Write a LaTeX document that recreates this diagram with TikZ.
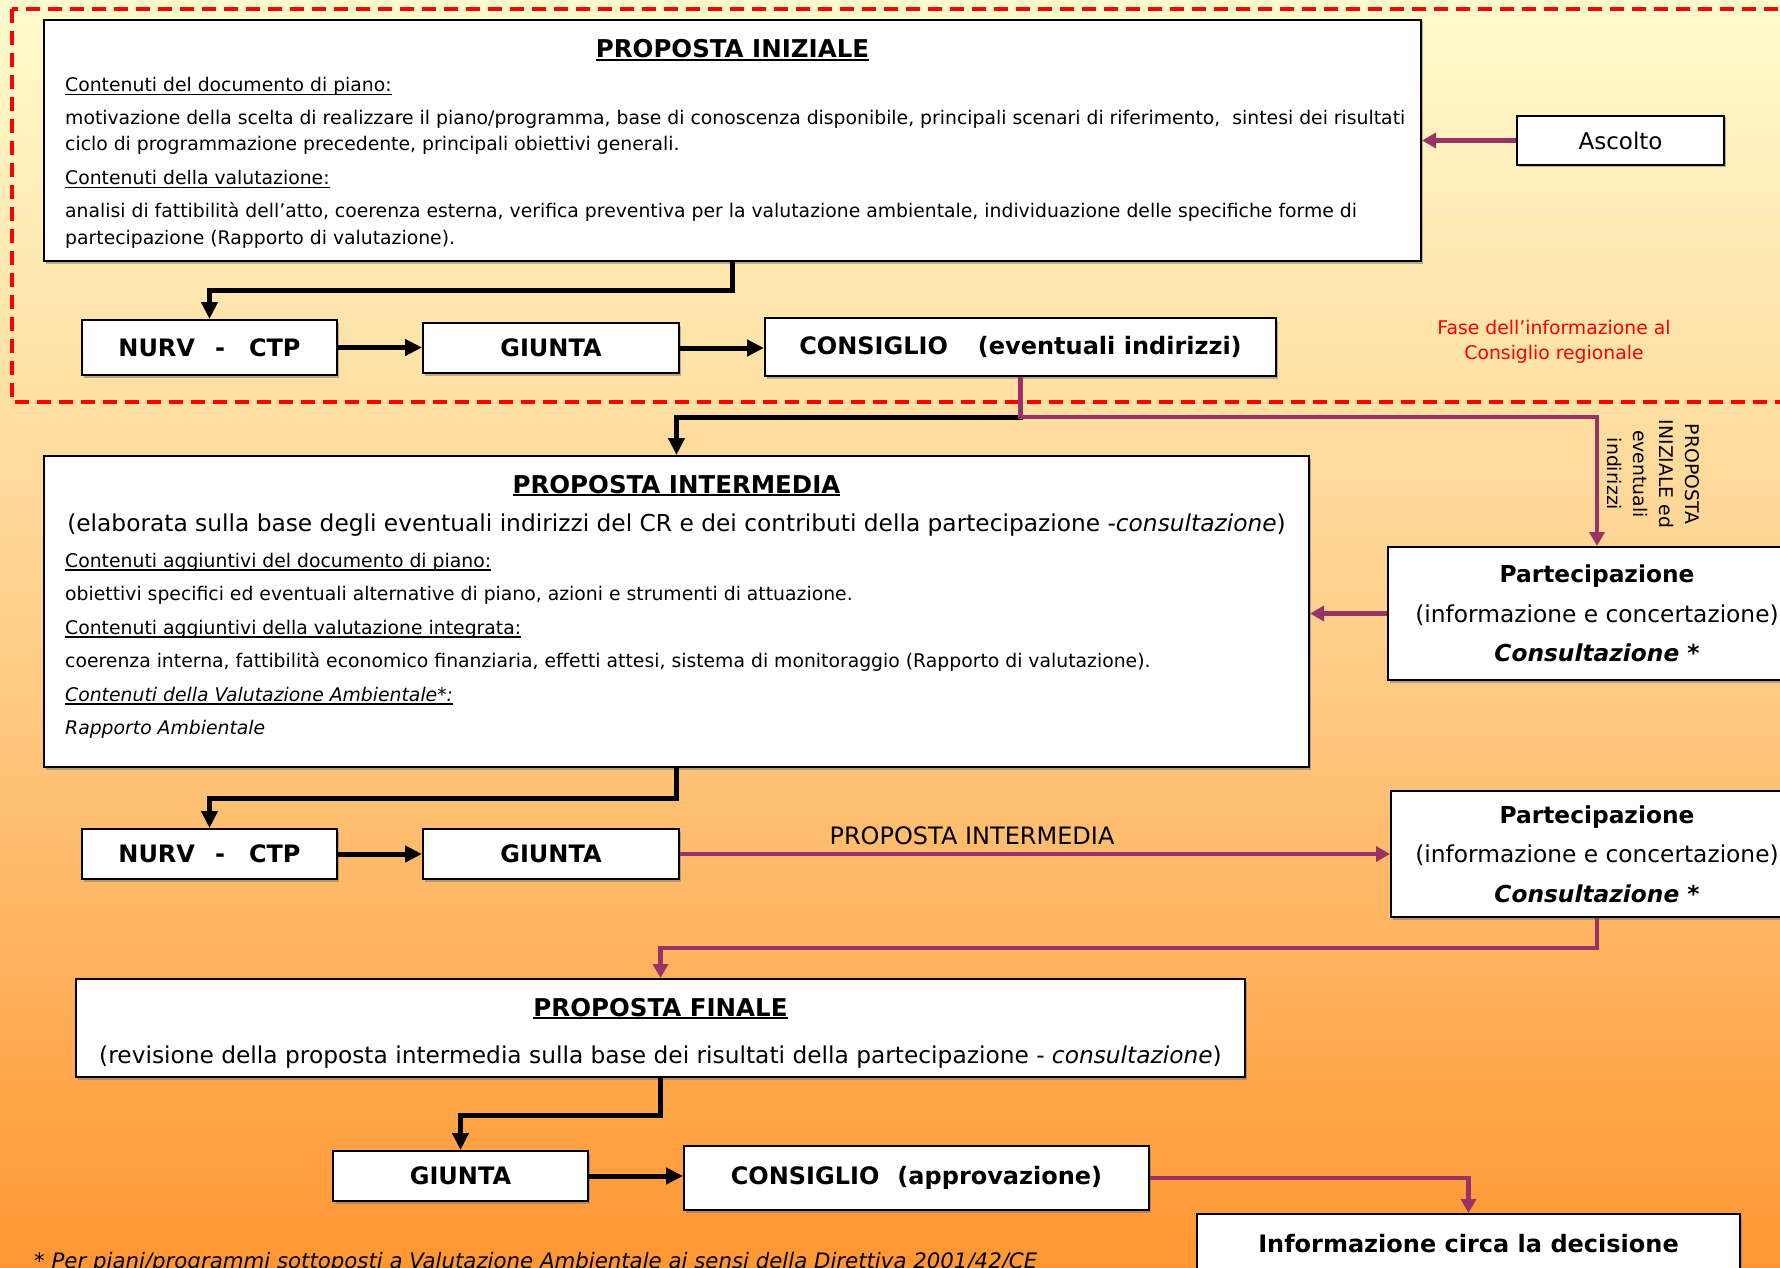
\documentclass[tikz,border=0pt]{standalone}
\usepackage{fontspec}
\setmainfont{DejaVu Sans}
\usetikzlibrary{arrows.meta,shadows}
\definecolor{purp}{RGB}{153,51,102}
\definecolor{bgtop}{RGB}{255,251,205}
\definecolor{bgmid}{RGB}{255,207,138}
\definecolor{bgbot}{RGB}{255,150,50}
\newcommand\fszA{\fontsize{18.8pt}{27pt}\selectfont}
\newcommand\fszB{\fontsize{23.3pt}{39.5pt}\selectfont}
\newcommand\fszC{\fontsize{24pt}{29pt}\selectfont\bfseries}
\newcommand\fszT{\fontsize{24.5pt}{29pt}\selectfont\bfseries}
\newcommand\ulx[3]{\setbox0\hbox{#3}\rlap{\rule[-#1]{\wd0}{#2}}\box0}
\begin{document}
\begin{tikzpicture}[x=1pt,y=-1pt,
  box/.style={draw=black, line width=2pt, fill=white, inner sep=0pt,
    drop shadow={shadow xshift=2pt, shadow yshift=-2.5pt, fill=black!55}},
  txt/.style={inner sep=0pt, anchor=base west, font=\fszA},
  ctr/.style={inner sep=0pt, anchor=base},
  blk/.style={line width=5pt, -{Triangle[length=17pt,width=16pt]}},
  pur/.style={draw=purp, line width=4.5pt, -{Triangle[length=14pt,width=15pt]}},
]
\useasboundingbox (0,0) rectangle (1780,1268);
\clip (0,0) rectangle (1780,1268);
\shade[top color=bgtop, bottom color=bgmid] (0,0) rectangle (1780,634);
\shade[top color=bgmid, bottom color=bgbot] (0,633) rectangle (1780,1268);

% red dashed frame
\draw[red, line width=4pt, dash pattern=on 14pt off 8pt] (11.5,9) rectangle (1800,401.5);

% ---------------- PROPOSTA INIZIALE
\node[box, minimum width=1377pt, minimum height=241pt] (pi) at (732.5,140.5) {};
\node[ctr, font=\fszT] (pit) at (732.5,58) {\ulx{3pt}{2pt}{PROPOSTA INIZIALE}};
\node[txt] (pi1) at (65,92) {\ulx{3pt}{1.2pt}{Contenuti del documento di piano:}};
\node[txt] (pi2) at (65,125) {motivazione della scelta di realizzare il piano/programma, base di conoscenza disponibile, principali scenari di riferimento,\ \ sintesi dei risultati};
\node[txt] (pi3) at (65,151) {ciclo di programmazione precedente, principali obiettivi generali.};
\node[txt] (pi4) at (65,185) {\ulx{3pt}{1.2pt}{Contenuti della valutazione:}};
\node[txt] (pi5) at (65,218) {analisi di fattibilità dell’atto, coerenza esterna, verifica preventiva per la valutazione ambientale, individuazione delle specifiche forme di};
\node[txt] (pi6) at (65,244) {partecipazione (Rapporto di valutazione).};

\node[box, minimum width=207pt, minimum height=49pt, font=\fontsize{23pt}{28pt}\selectfont] (asc) at (1620.5,140.5) {\raisebox{-3pt}{Ascolto}};

\node[box, minimum width=255pt, minimum height=55pt, font=\fszC] (nurv1) at (209.5,347.5) {NURV\hspace{20pt}-\hspace{24pt}CTP};
\node[box, minimum width=256pt, minimum height=50pt, font=\fszC] (giunta1) at (551,348) {\raisebox{-2pt}{GIUNTA}};
\node[box, minimum width=511pt, minimum height=58pt, font=\fszC] (cons1) at (1020.5,347) {CONSIGLIO\hspace{30pt}(eventuali indirizzi)};

\node[text=red, align=center, inner sep=0pt, font=\fontsize{18.8pt}{25pt}\selectfont] (fase) at (1554,342) {Fase dell’informazione al\\Consiglio regionale};

% ---------------- PROPOSTA INTERMEDIA
\node[box, minimum width=1265pt, minimum height=311pt] (pim) at (676.5,611.5) {};
\node[ctr, font=\fszT] (pimt) at (676.5,493) {\ulx{3pt}{2pt}{PROPOSTA INTERMEDIA}};
\node[ctr, font=\fszB] (pim0) at (676.5,531) {(elaborata sulla base degli eventuali indirizzi del CR e dei contributi della partecipazione -\textit{consultazione})};
\node[txt] (pim1) at (65,567.5) {\ulx{3pt}{1.2pt}{Contenuti aggiuntivi del documento di piano:}};
\node[txt] (pim2) at (65,600.5) {obiettivi specifici ed eventuali alternative di piano, azioni e strumenti di attuazione.};
\node[txt] (pim3) at (65,634.5) {\ulx{3pt}{1.2pt}{Contenuti aggiuntivi della valutazione integrata:}};
\node[txt] (pim4) at (65,667.5) {coerenza interna, fattibilità economico finanziaria, effetti attesi, sistema di monitoraggio (Rapporto di valutazione).};
\node[txt] (pim5) at (65,701.5) {\itshape\ulx{3pt}{1.2pt}{Contenuti della Valutazione Ambientale*:}};
\node[txt] (pim6) at (65,734.5) {\itshape Rapporto Ambientale};

\node[box, minimum width=418pt, minimum height=133pt, align=center, font=\fszB] (part1) at (1597,613.5)
  {\textbf{Partecipazione}\\(informazione e concertazione)\\\textbf{\textit{Consultazione *}}};
\node[inner sep=0pt, rotate=-90, align=center, font=\fontsize{18.8pt}{26pt}\selectfont] (vtxt) at (1653,474)
  {PROPOSTA\\INIZIALE ed\\eventuali\\indirizzi};

\node[box, minimum width=255pt, minimum height=50pt, font=\fszC] (nurv2) at (209.5,854) {\raisebox{-2pt}{NURV\hspace{20pt}-\hspace{24pt}CTP}};
\node[box, minimum width=256pt, minimum height=50pt, font=\fszC] (giunta2) at (551,854) {\raisebox{-2pt}{GIUNTA}};
\node[box, minimum width=412pt, minimum height=126pt, align=center, font=\fszB] (part2) at (1597,854)
  {\textbf{Partecipazione}\\(informazione e concertazione)\\\textbf{\textit{Consultazione *}}};
\node[ctr, font=\fontsize{24pt}{28pt}\selectfont] (lblpim) at (972,844) {PROPOSTA INTERMEDIA};

% ---------------- PROPOSTA FINALE
\node[box, minimum width=1169pt, minimum height=98pt] (pf) at (660.5,1028) {};
\node[ctr, font=\fszT] (pft) at (660.5,1016) {\ulx{3pt}{2pt}{PROPOSTA FINALE}};
\node[ctr, font=\fszB] (pf1) at (660.5,1063) {(revisione della proposta intermedia sulla base dei risultati della partecipazione - \textit{consultazione})};

\node[box, minimum width=255pt, minimum height=50pt, font=\fszC] (giunta3) at (460.5,1176) {\raisebox{-2pt}{GIUNTA}};
\node[box, minimum width=465pt, minimum height=64pt, font=\fszC] (cons2) at (916.5,1178) {CONSIGLIO\hspace{18pt}(approvazione)};
\node[box, minimum width=543pt, minimum height=60pt, font=\fszC] (info) at (1468.5,1244) {Informazione circa la decisione};

\node[inner sep=0pt, anchor=base west, font=\fontsize{21.3pt}{26pt}\selectfont\itshape] (foot) at (34,1268)
  {* Per piani/programmi sottoposti a Valutazione Ambientale ai sensi della Direttiva 2001/42/CE};

% ---------------- connectors
\coordinate (b1) at (209.5,290);
\coordinate (b2) at (676.5,417);
\coordinate (b3) at (1597,417);
\coordinate (b4) at (209.5,798);
\coordinate (b5) at (660.5,948);
\coordinate (b6) at (460.5,1115);
\coordinate (b7) at (1468.5,1178);

\draw[blk] (pi.south) |- (b1) -- (nurv1.north);
\draw[blk] (nurv1.east) -- (giunta1.west |- nurv1.east);
\draw[blk] (giunta1.east) -- (cons1.west |- giunta1.east);
\draw[blk] (cons1.south) |- (b2) -- (pim.north);
\draw[pur] (cons1.south) |- (b3) -- (part1.north);
\draw[pur] (asc.west) -- (pi.east |- asc.west);
\draw[pur] (part1.west) -- (pim.east |- part1.west);

\draw[blk] (pim.south) |- (b4) -- (nurv2.north);
\draw[blk] (nurv2.east) -- (giunta2.west);
\draw[pur] (giunta2.east) -- (part2.west);
\draw[pur] (part2.south) |- (b5) -- (pf.north);

\draw[blk] (pf.south) |- (b6) -- (giunta3.north);
\draw[blk] (giunta3.east) -- (cons2.west |- giunta3.east);
\draw[pur] (cons2.east) -- (b7) -- (info.north);
\end{tikzpicture}
\end{document}
